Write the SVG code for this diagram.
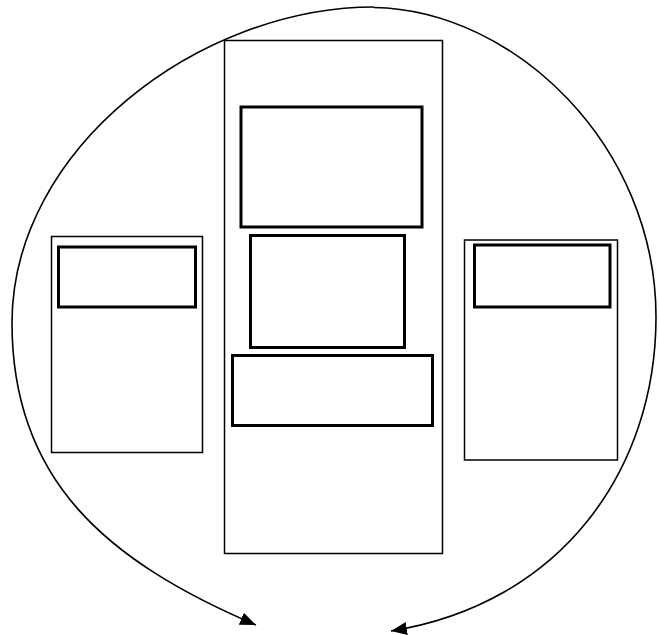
<svg xmlns="http://www.w3.org/2000/svg" width="659" height="635" viewBox="0 0 659 635">
<style>
.outer{fill:none;stroke:#000;stroke-width:1.5}
.inner{fill:none;stroke:#000;stroke-width:3}
.conn{fill:none;stroke:#000;stroke-width:1.6}
</style>
<defs>
<marker id="arr" markerUnits="userSpaceOnUse" markerWidth="18" markerHeight="14" refX="16" refY="6.5" orient="auto">
<path d="M0,0 L16,6.5 L0,13 z" fill="#000"/>
</marker>
</defs>
<rect width="659" height="635" fill="#fff"/>
<g id="connectors">
<path class="conn" d="M374,7 C200,7 12,148 12,323 C12,480 106,561 256,625" marker-end="url(#arr)"/>
<path class="conn" d="M374,7.5 C515,10 656,146 656,317 C656,470 561,604 391,631" marker-end="url(#arr)"/>
</g>
<g id="center">
<rect class="outer" x="224.5" y="40.5" width="218" height="513"/>
</g>
<g id="center-top"><rect class="inner" x="241" y="107" width="181" height="120"/></g>
<g id="center-middle"><rect class="inner" x="250.5" y="235.5" width="154" height="112"/></g>
<g id="center-bottom"><rect class="inner" x="232.5" y="355.5" width="200" height="70"/></g>
<g id="left">
<rect class="outer" x="51.5" y="236.5" width="151" height="216"/>
</g>
<g id="left-top"><rect class="inner" x="58.5" y="247" width="137" height="60"/></g>
<g id="right">
<rect class="outer" x="464.5" y="240" width="153" height="220"/>
</g>
<g id="right-top"><rect class="inner" x="474.5" y="245" width="135.5" height="62"/></g>
</svg>
